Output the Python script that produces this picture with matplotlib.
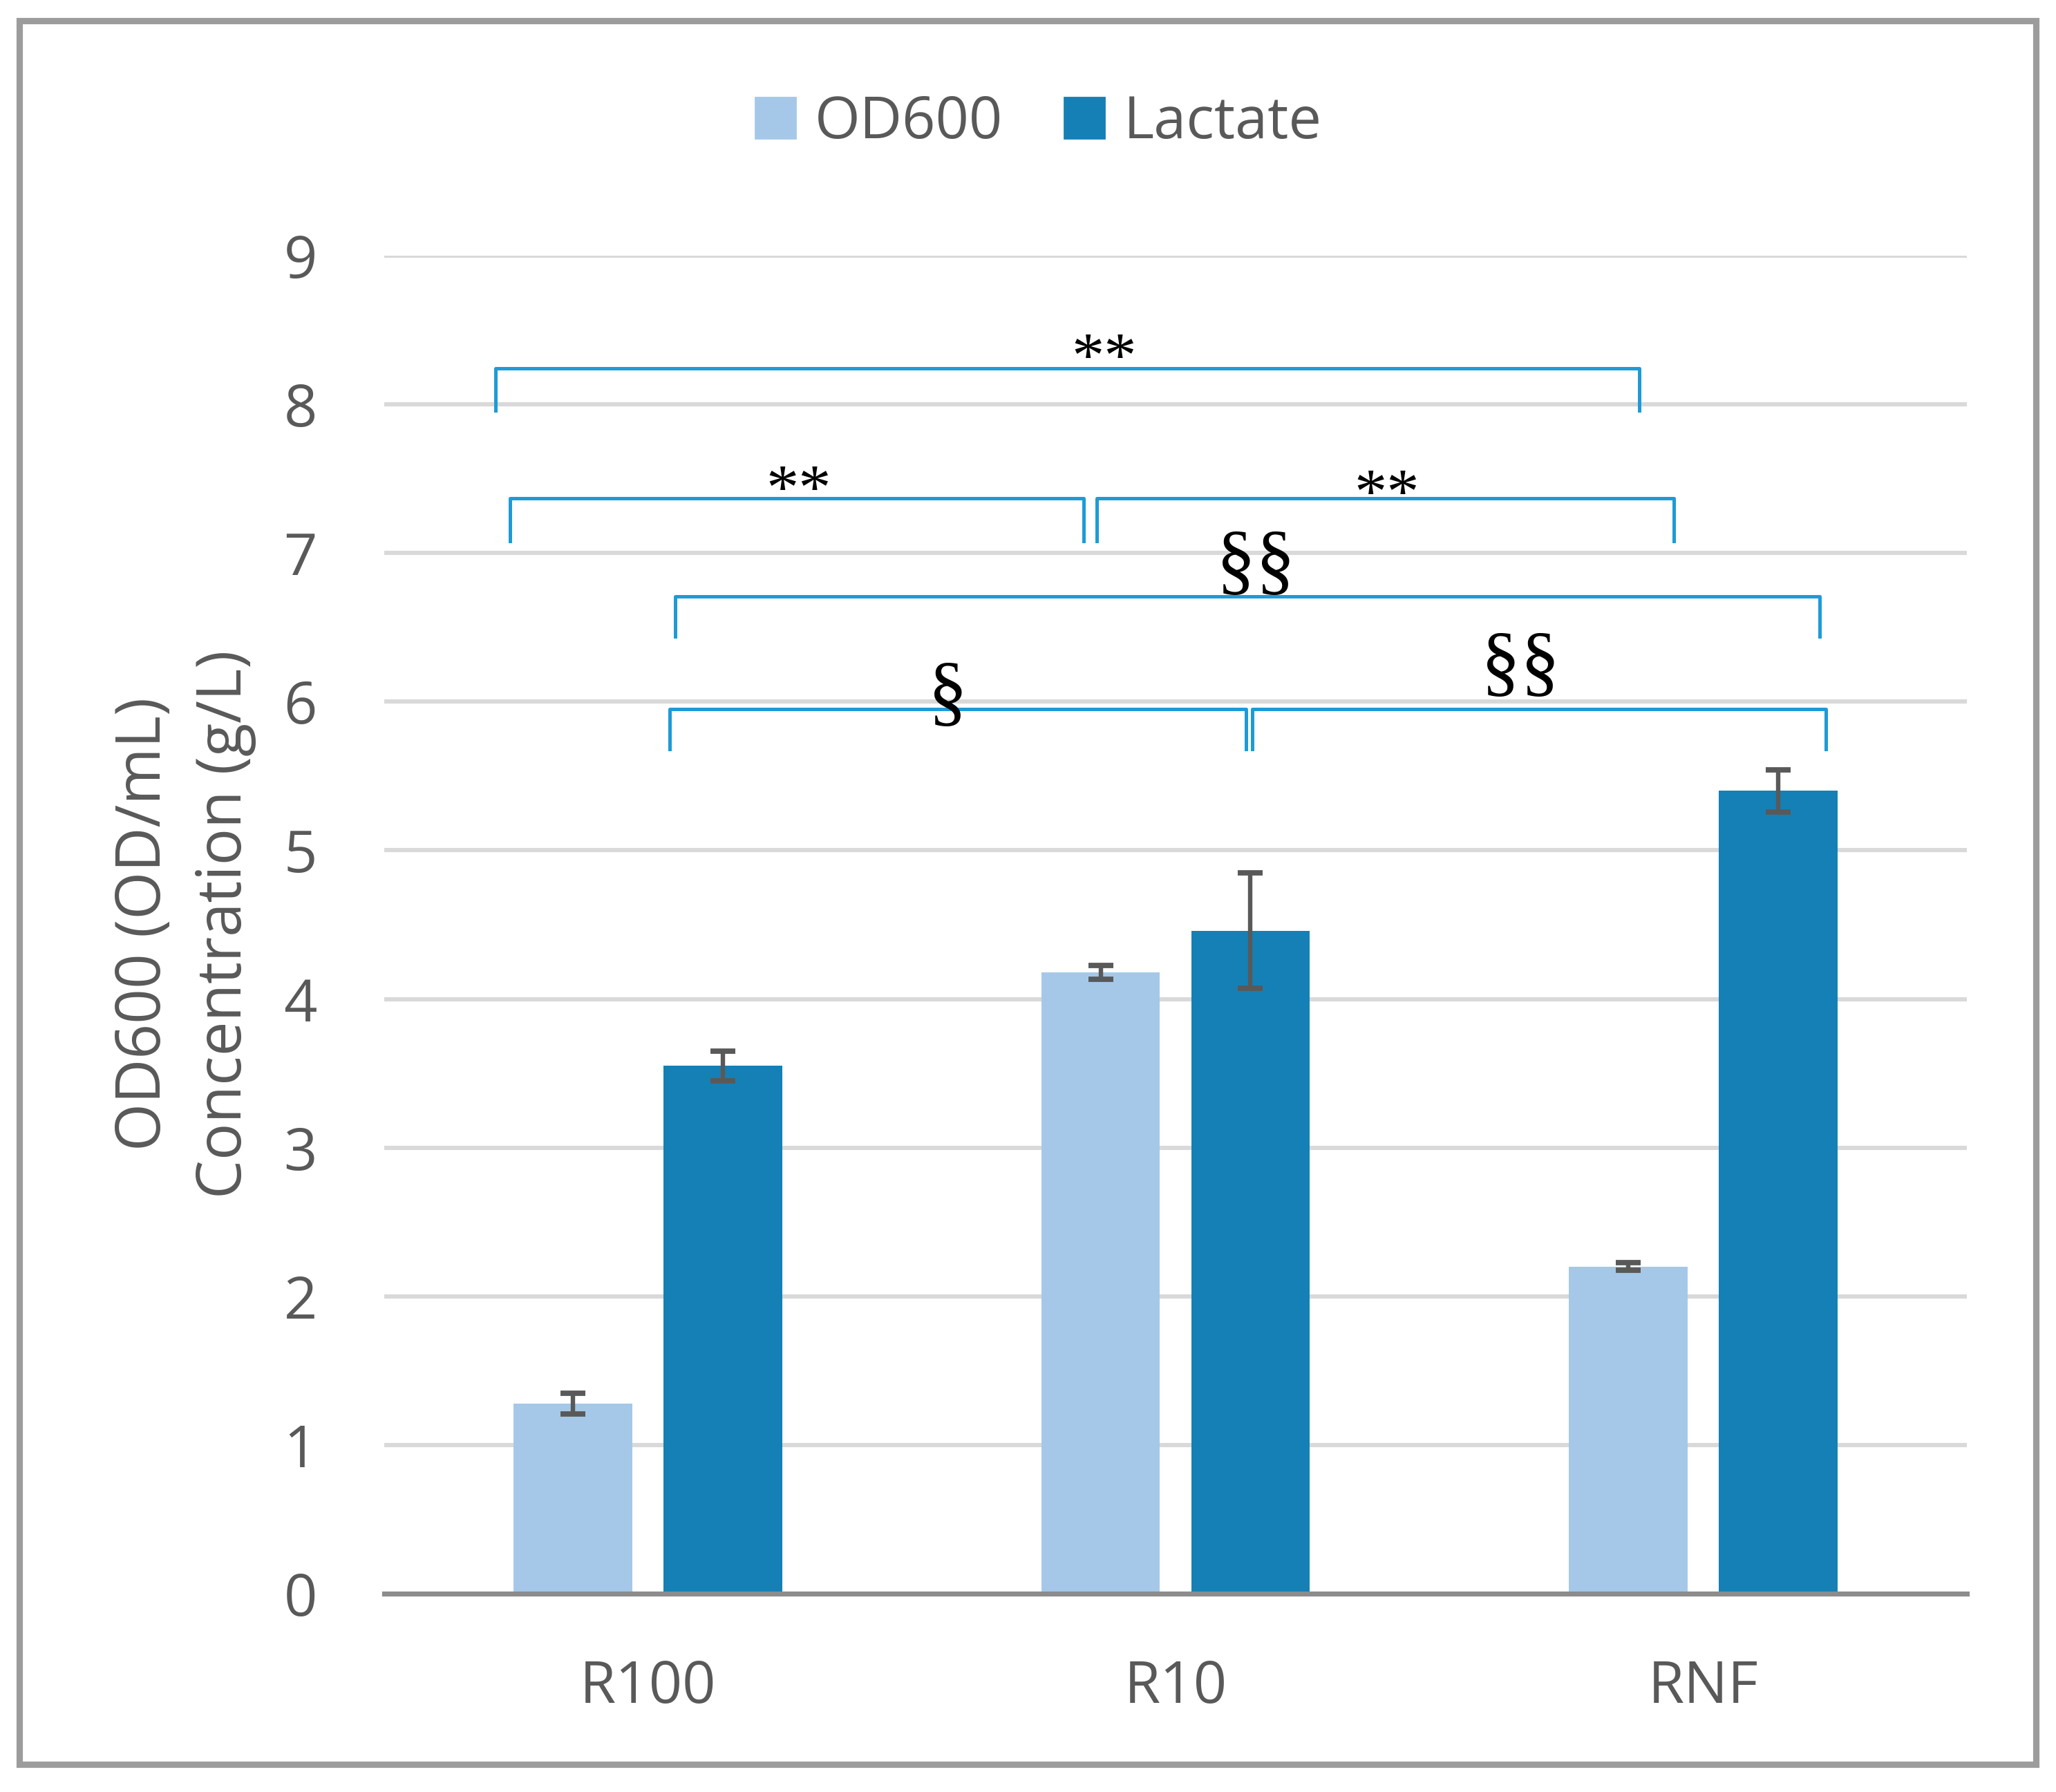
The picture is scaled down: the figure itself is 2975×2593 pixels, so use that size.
import numpy as np
import matplotlib
matplotlib.use("Agg")
import matplotlib.pyplot as plt
from matplotlib.patches import Patch, Rectangle

# --- data ---
categories = ["R100", "R10", "RNF"]
od600 = [1.28, 4.18, 2.20]
od600_err = [0.07, 0.045, 0.025]
lactate = [3.55, 4.46, 5.40]
lactate_err = [0.10, 0.39, 0.14]

# significance brackets (x in category units)
br_left = [-0.289, -0.261, 0.851, 0.052, 0.041, 1.146]
br_right = [1.879, 0.826, 1.944, 2.221, 1.134, 2.233]
br_top = [8.24, 7.37, 7.37, 6.71, 5.95, 5.95]
br_foot = [7.96, 7.08, 7.08, 6.44, 5.68, 5.68]
br_label = ["**", "**", "**", "§§", "§", "§§"]
lab_x = [0.864, 0.285, 1.40, 1.152, 0.568, 1.654]
lab_y = [8.40, 7.515, 7.485, 6.93, 6.05, 6.25]

C_OD = "#a5c8e8"
C_LAC = "#1580b5"
C_BR = "#1e9bd7"
GREY = "#595959"

plt.rcParams["font.family"] = ["Open Sans", "DejaVu Sans"]

W, H = 2975, 2593
fig = plt.figure(figsize=(W / 200, H / 200), dpi=200)
ax = fig.add_axes([556 / W, 1 - 2306 / H, (2846 - 556) / W, (2306 - 370) / H])

x = np.arange(len(categories))
bw, off = 0.225, 0.142
ekw = dict(ecolor=GREY, elinewidth=2.3, capsize=6.5, capthick=2.8, zorder=4)
ax.bar(x - off, od600, bw, color=C_OD, yerr=od600_err, error_kw=ekw, zorder=3)
ax.bar(x + off, lactate, bw, color=C_LAC, yerr=lactate_err, error_kw=ekw, zorder=3)

# brackets + marks
for l, r, t, f in zip(br_left, br_right, br_top, br_foot):
    ax.plot([l, l, r, r], [f, t, t, f], color=C_BR, lw=1.8, zorder=5,
            solid_joinstyle="round", clip_on=False)
for s, lx, ly in zip(br_label, lab_x, lab_y):
    star = s.startswith("*")
    ax.text(lx, ly + (-0.11 if star else -0.02), s, ha="center", va="center",
            fontsize=34 if star else 41, family="Liberation Serif",
            stretch="condensed", color="black", zorder=6)

ax.set_xlim(-0.5, 2.5)
ax.set_ylim(0, 9)
ax.set_yticks(range(10))
ax.set_xticks(x)
ax.set_xticklabels(categories)
ax.yaxis.grid(True, color="#d9d9d9", lw=2.2)
ax.set_axisbelow(True)
for s in ("top", "right", "left"):
    ax.spines[s].set_visible(False)
ax.spines["bottom"].set_color("#8c8c8c")
ax.spines["bottom"].set_linewidth(2.6)
ax.spines["bottom"].set_zorder(5)
ax.tick_params(axis="y", length=0, pad=35, labelsize=30.5, labelcolor=GREY)
ax.tick_params(axis="x", length=0, pad=34, labelsize=30.5, labelcolor=GREY)

# y label: two stacked rotated lines
fig.text(209 / W, 1 - 1337 / H, "OD600 (OD/mL)", rotation=90, ha="center",
         va="center", fontsize=32, color=GREY)
fig.text(326 / W, 1 - 1337 / H, "Concentration (g/L)", rotation=90, ha="center",
         va="center", fontsize=32, color=GREY)

handles = [Patch(color=C_OD, label="OD600"), Patch(color=C_LAC, label="Lactate")]
leg = fig.legend(handles=handles, loc="center", bbox_to_anchor=(1503 / W, 1 - 178 / H),
                 ncol=2, frameon=False, fontsize=30.5, handlelength=0.685,
                 handleheight=0.685, handletextpad=0.33, columnspacing=1.05)
for t in leg.get_texts():
    t.set_color(GREY)

# outer chart frame
fig.patches.append(Rectangle((28 / W, 1 - 2553 / H), (2946 - 28) / W, (2553 - 29.5) / H,
                             transform=fig.transFigure, fill=False,
                             edgecolor="#9c9c9c", lw=3.3))

fig.savefig("out.png", dpi=200, facecolor="white")
